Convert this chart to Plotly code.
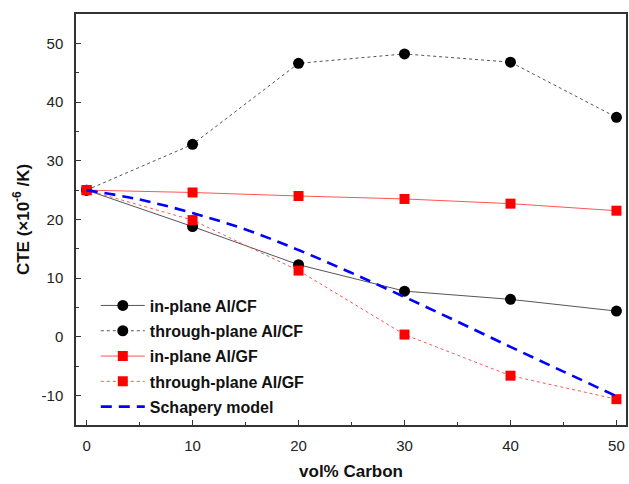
import plotly.graph_objects as go

vol = [0, 10, 20, 30, 40, 50]
inplane_cf = [25.0, 18.8, 12.3, 7.8, 6.4, 4.4]
through_cf = [25.0, 32.8, 46.6, 48.2, 46.8, 37.4]
inplane_gf = [25.0, 24.6, 24.0, 23.5, 22.7, 21.5]
through_gf = [25.0, 19.9, 11.3, 0.4, -6.6, -10.6]
schapery_x = [0, 5, 10, 15, 20, 25, 30, 35, 40, 45, 50]
schapery_y = [25.0, 23.4, 21.1, 18.3, 14.8, 10.9, 6.8, 2.6, -1.7, -5.9, -10.1]

x_ticks = [0, 10, 20, 30, 40, 50]
x_ticktext = ["0", "10", "20", "30", "40", "50"]
y_ticks = [-10, 0, 10, 20, 30, 40, 50]
y_ticktext = ["-10", "0", "10", "20", "30", "40", "50"]

fig = go.Figure()
fig.add_trace(go.Scatter(x=vol, y=inplane_cf, name="in-plane Al/CF", mode="lines+markers",
                         legendgroup="a",
                         line=dict(color="#555555", width=1),
                         marker=dict(symbol="circle", size=11, color="black")))
fig.add_trace(go.Scatter(x=vol, y=through_cf, name="through-plane Al/CF", mode="lines+markers",
                         legendgroup="b",
                         line=dict(color="#555555", width=1, dash="dot"),
                         marker=dict(symbol="circle", size=11, color="black")))
fig.add_trace(go.Scatter(x=vol, y=inplane_gf, name="in-plane Al/GF", mode="lines+markers",
                         legendgroup="c",
                         line=dict(color="#ff5555", width=1),
                         marker=dict(symbol="square", size=10, color="#ff0000")))
fig.add_trace(go.Scatter(x=vol, y=through_gf, name="through-plane Al/GF", mode="lines+markers",
                         legendgroup="d",
                         line=dict(color="#ff5555", width=1, dash="dot"),
                         marker=dict(symbol="square", size=10, color="#ff0000")))
fig.add_trace(go.Scatter(x=schapery_x, y=schapery_y, name="Schapery model", mode="lines",
                         legendgroup="e",
                         line=dict(color="#0000ff", width=2.6, dash="11px,7px", shape="spline")))

axis_common = dict(showline=True, linecolor="#333333", linewidth=1.5, mirror=True,
                   showgrid=False, zeroline=False, ticks="inside", ticklen=5,
                   tickcolor="#333333", tickwidth=1.2,
                   tickfont=dict(family="Liberation Sans, Arial", size=15, color="#222222"))

fig.update_xaxes(range=[-1, 50.9], tickvals=x_ticks, ticktext=x_ticktext,
                 minor=dict(dtick=5, tick0=0, ticks="inside", ticklen=3, tickcolor="#333333"),
                 title=dict(text="<b>vol% Carbon</b>", standoff=12,
                            font=dict(family="Liberation Sans, Arial", size=17, color="#111111")),
                 ticklabelstandoff=6, **axis_common)
fig.update_yaxes(range=[-15, 55], tickvals=y_ticks, ticktext=y_ticktext,
                 minor=dict(dtick=5, tick0=0, ticks="inside", ticklen=3, tickcolor="#333333"),
                 title=dict(text="<b>CTE (×10<sup>-6</sup> /K)</b>", standoff=8,
                            font=dict(family="Liberation Sans, Arial", size=17, color="#111111")),
                 ticklabelstandoff=8, **axis_common)

fig.update_layout(width=629, height=484,
                  margin=dict(l=76, r=1, t=14, b=59),
                  plot_bgcolor="white", paper_bgcolor="white",
                  legend=dict(x=0.036, y=0.332, xanchor="left", yanchor="top",
                              bgcolor="rgba(0,0,0,0)", tracegroupgap=1.5,
                              font=dict(family="Liberation Sans, Arial", size=16, color="#111111"),
                              itemwidth=44),
                  showlegend=True)
for t in fig.data:
    t.name = "<b>" + t.name + "</b>"

fig.write_html("out.html", config={"displayModeBar": False},
               post_script="document.body.style.margin='0';document.body.style.padding='0';")
